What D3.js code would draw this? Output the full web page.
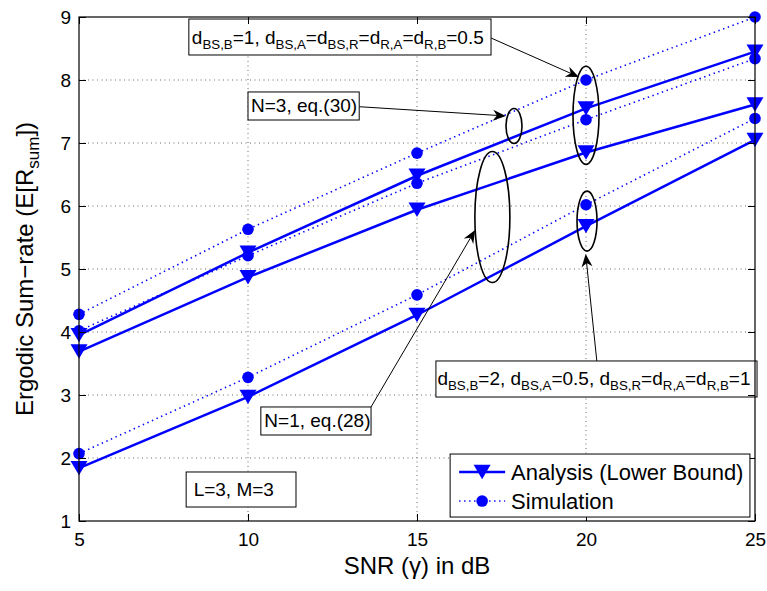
<!DOCTYPE html>
<html>
<head>
<meta charset="utf-8">
<script src="https://cdn.jsdelivr.net/npm/d3@7"></script>
<style>
  html, body { margin: 0; padding: 0; background: #fff; }
  svg { display: block; font-family: "Liberation Sans", Arial, Helvetica, sans-serif; }
</style>
</head>
<body>
<svg id="chart" width="767" height="591"></svg>
<script>
// SNR points (dB)
const snr = [5, 10, 15, 20, 25];

// Ergodic sum-rate, analysis (lower bound)
const analysisN3 = [3.95, 5.26, 6.48, 7.55, 8.45];
const analysisN1 = [3.69, 4.87, 5.94, 6.85, 7.61];
const analysisD2 = [1.84, 2.97, 4.27, 5.68, 7.05];

// Ergodic sum-rate, simulation
const simN3 = [4.28, 5.63, 6.84, 8.00, 9.00];
const simN1 = [4.02, 5.21, 6.36, 7.37, 8.34];
const simD2 = [2.07, 3.28, 4.59, 6.02, 7.39];

const xTicks = [5, 10, 15, 20, 25];
const yTicks = [1, 2, 3, 4, 5, 6, 7, 8, 9];

const legendLabels = ["Analysis (Lower Bound)", "Simulation"];

const svg = d3.select("#chart");
const margin = { left: 79, right: 12, top: 17, bottom: 70 };
const W = 767, H = 591;

const x = d3.scaleLinear().domain([5, 25]).range([margin.left, W - margin.right]);
const y = d3.scaleLinear().domain([1, 9]).range([H - margin.bottom, margin.top]);

const x0 = x.range()[0], x1 = x.range()[1];
const y0 = y.range()[0], y1 = y.range()[1];
const BLUE = "#0000ff";

// grid
const grid = svg.append("g");
grid.selectAll("line.gx").data(xTicks.slice(1, -1)).join("line")
  .attr("x1", d => x(d)).attr("x2", d => x(d)).attr("y1", y0).attr("y2", y1)
  .attr("stroke", "#6a6a6a").attr("stroke-width", 1).attr("stroke-dasharray", "1,3.5");
grid.selectAll("line.gy").data(yTicks.slice(1, -1)).join("line")
  .attr("y1", d => y(d)).attr("y2", d => y(d)).attr("x1", x0).attr("x2", x1)
  .attr("stroke", "#6a6a6a").attr("stroke-width", 1).attr("stroke-dasharray", "1,3.5");

// series
const analysisSeries = [analysisN3, analysisN1, analysisD2];
const simSeries = [simN3, simN1, simD2];

const line = d3.line().x((d, i) => x(snr[i])).y(d => y(d));

const tri = d3.symbol().type({
  draw(ctx, size) {
    // downward triangle, centred in its bounding box
    const w = 8.5, h = 7.2;
    ctx.moveTo(-w, -h); ctx.lineTo(w, -h); ctx.lineTo(0, h); ctx.closePath();
  }
})();

const marks = svg.append("g");
simSeries.forEach(s => {
  marks.append("path").attr("d", line(s)).attr("fill", "none")
    .attr("stroke", BLUE).attr("stroke-width", 1.6).attr("stroke-dasharray", "1.4,3.6");
});
analysisSeries.forEach(s => {
  marks.append("path").attr("d", line(s)).attr("fill", "none")
    .attr("stroke", BLUE).attr("stroke-width", 2.5);
});
simSeries.forEach(s => {
  marks.selectAll(null).data(s).join("circle")
    .attr("cx", (d, i) => x(snr[i])).attr("cy", d => y(d)).attr("r", 5.8).attr("fill", BLUE);
});
analysisSeries.forEach(s => {
  marks.selectAll(null).data(s).join("path")
    .attr("d", tri)
    .attr("transform", (d, i) => `translate(${x(snr[i])},${y(d)})`)
    .attr("fill", BLUE);
});

// ellipses grouping the curves (centre x, centre y, radius x, radius y in data units)
const ellipses = [
  [20.0, 7.44, 0.385, 0.778],
  [17.87, 7.27, 0.237, 0.278],
  [17.23, 5.825, 0.518, 1.04],
  [20.03, 5.76, 0.296, 0.476]
];
const ann = svg.append("g");
ann.selectAll("ellipse").data(ellipses).join("ellipse")
  .attr("cx", d => x(d[0])).attr("cy", d => y(d[1]))
  .attr("rx", d => x(d[0] + d[2]) - x(d[0]))
  .attr("ry", d => y(d[1] - d[3]) - y(d[1]))
  .attr("fill", "none").attr("stroke", "#000").attr("stroke-width", 1.6);

// arrows: [from x, from y, to x, to y] in data units
const arrows = [
  [17.19, 8.667, 19.79, 8.048],
  [13.29, 7.576, 17.63, 7.429],
  [13.64, 2.81, 16.72, 5.619],
  [20.32, 3.54, 19.99, 5.238]
];
arrows.forEach(a => {
  const fx = x(a[0]), fy = y(a[1]), tx = x(a[2]), ty = y(a[3]);
  const ang = Math.atan2(ty - fy, tx - fx);
  const L = 13, hw = 5.5, notch = 4;
  const ux = Math.cos(ang), uy = Math.sin(ang), px = -uy, py = ux;
  ann.append("line").attr("x1", fx).attr("y1", fy)
    .attr("x2", tx - ux * (L - notch)).attr("y2", ty - uy * (L - notch))
    .attr("stroke", "#000").attr("stroke-width", 1);
  const bx = tx - ux * L, by = ty - uy * L;
  const nx = tx - ux * (L - notch), ny = ty - uy * (L - notch);
  ann.append("path")
    .attr("d", `M${tx},${ty}L${bx + px * hw},${by + py * hw}L${nx},${ny}L${bx - px * hw},${by - py * hw}Z`)
    .attr("fill", "#000");
});

// text boxes: [left x, right x, top y, bottom y] in data units, inner padding (px), rich text parts
const boxes = [
  { r: [8.25, 17.19, 8.968, 8.397], pad: 3, parts: [["d"], ["BS,B", 1], ["=1, d"], ["BS,A", 1], ["=d"], ["BS,R", 1], ["=d"], ["R,A", 1], ["=d"], ["R,B", 1], ["=0.5"]] },
  { r: [10.0, 13.29, 7.810, 7.365], pad: 3, parts: [["N=3, eq.(30)"]] },
  { r: [15.56, 25.06, 3.540, 2.968], pad: 1.5, parts: [["d"], ["BS,B", 1], ["=2, d"], ["BS,A", 1], ["=0.5, d"], ["BS,R", 1], ["=d"], ["R,A", 1], ["=d"], ["R,B", 1], ["=1"]] },
  { r: [10.38, 13.64, 2.810, 2.365], pad: 3.5, parts: [["N=1, eq.(28)"]] },
  { r: [8.17, 11.42, 1.778, 1.222], pad: 7.5, parts: [["L=3, M=3"]] }
];
boxes.forEach(b => {
  const bx0 = x(b.r[0]), bx1 = x(b.r[1]), by0 = y(b.r[2]), by1 = y(b.r[3]);
  ann.append("rect").attr("x", bx0).attr("y", by0).attr("width", bx1 - bx0).attr("height", by1 - by0)
    .attr("fill", "#fff").attr("stroke", "#000").attr("stroke-width", 1);
  const t = ann.append("text").attr("x", bx0 + b.pad).attr("y", (by0 + by1) / 2 + 6.5)
    .attr("font-size", 19).attr("fill", "#000");
  let sub = false;
  b.parts.forEach(p => {
    const isSub = !!p[1];
    const ts = t.append("tspan").text(p[0]);
    if (isSub) ts.attr("font-size", 13.3);
    if (isSub && !sub) ts.attr("dy", 5);
    else if (!isSub && sub) ts.attr("dy", -5);
    sub = isSub;
  });
});

// axes frame and ticks
const ax = svg.append("g");
ax.append("rect").attr("x", x0).attr("y", y1).attr("width", x1 - x0).attr("height", y0 - y1)
  .attr("fill", "none").attr("stroke", "#000").attr("stroke-width", 1.2);

const xAxis = d3.axisBottom(x).tickValues(xTicks).tickSizeInner(-7).tickSizeOuter(0).tickPadding(12);
ax.append("g").attr("transform", `translate(0,${y0})`).call(xAxis);
const yAxis = d3.axisLeft(y).tickValues(yTicks).tickSizeInner(-7).tickSizeOuter(0).tickPadding(8);
ax.append("g").attr("transform", `translate(${x0},0)`).call(yAxis);
ax.append("g").attr("transform", `translate(0,${y1})`)
  .call(d3.axisTop(x).tickValues(xTicks).tickSizeInner(-7).tickSizeOuter(0).tickFormat(""));
ax.append("g").attr("transform", `translate(${x1},0)`)
  .call(d3.axisRight(y).tickValues(yTicks).tickSizeInner(-7).tickSizeOuter(0).tickFormat(""));
ax.selectAll(".domain").remove();
ax.selectAll("g").attr("font-family", null).attr("font-size", null);
ax.selectAll(".tick line").attr("stroke", "#000").attr("stroke-width", 1);
ax.selectAll(".tick text").style("font-size", "19px").attr("fill", "#000");

// axis titles
svg.append("text").attr("x", x(15)).attr("y", 574).attr("text-anchor", "middle")
  .attr("font-size", 24).text("SNR (γ) in dB");

const yt = svg.append("text").attr("transform", `translate(33,${y(5)}) rotate(-90)`)
  .attr("text-anchor", "middle").attr("font-size", 24);
yt.append("tspan").text("Ergodic Sum\u2212rate (E[R");
yt.append("tspan").attr("dy", 6).attr("font-size", 17).text("sum");
yt.append("tspan").attr("dy", -6).text("])");

// legend
const lg = svg.append("g");
const lgX0 = x(15.98), lgX1 = x(24.85), lgY0 = y(2.063), lgY1 = y(1.063);
lg.append("rect").attr("x", lgX0).attr("y", lgY0).attr("width", lgX1 - lgX0).attr("height", lgY1 - lgY0)
  .attr("fill", "#fff").attr("stroke", "#000").attr("stroke-width", 1);
const rows = [lgY0 + 18, lgY0 + 47];
const lx0 = lgX0 + 9, lx1 = lgX0 + 55, lm = lgX0 + 32;
lg.append("line").attr("x1", lx0).attr("x2", lx1).attr("y1", rows[0]).attr("y2", rows[0])
  .attr("stroke", BLUE).attr("stroke-width", 2.5);
lg.append("path").attr("d", tri).attr("transform", `translate(${lm},${rows[0]})`).attr("fill", BLUE);
lg.append("line").attr("x1", lx0).attr("x2", lx1).attr("y1", rows[1]).attr("y2", rows[1])
  .attr("stroke", BLUE).attr("stroke-width", 1.6).attr("stroke-dasharray", "1.4,3.6");
lg.append("circle").attr("cx", lm).attr("cy", rows[1]).attr("r", 5.8).attr("fill", BLUE);
legendLabels.forEach((t, i) => {
  lg.append("text").attr("x", lgX0 + 61).attr("y", rows[i] + 8).attr("font-size", 22).text(t);
});
</script>
</body>
</html>
